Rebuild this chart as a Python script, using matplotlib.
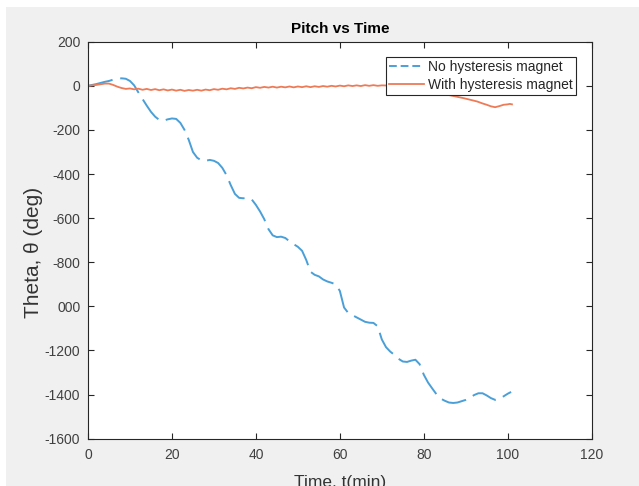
import matplotlib.pyplot as plt
from matplotlib.lines import Line2D
from matplotlib.patches import Rectangle

# pitch angle without the hysteresis magnet (deg)
t_no = [0, 2, 4, 5, 6, 7, 8, 9, 10, 11, 12, 13, 14, 15, 16, 17, 18, 19, 20,
        21, 22, 23, 24, 25, 26, 27, 28, 29, 30, 31, 32, 33, 34, 35, 36, 37, 38,
        39, 40, 41, 42, 43, 44, 45, 46, 47, 48, 49, 50, 51, 52, 53, 54, 55, 56,
        57, 58, 59, 60, 61, 62, 63, 64, 65, 66, 67, 68, 69, 70, 71, 72, 73, 74,
        75, 76, 77, 78, 79, 80, 81, 82, 83, 84, 85, 86, 87, 88, 89, 90, 91, 92,
        93, 94, 95, 96, 97, 98, 99, 100, 100.8]
theta_no = [0, 8, 18, 22, 28, 32, 34, 32, 22, 2, -30, -60, -90, -118, -140,
            -155, -158, -152, -148, -150, -168, -200, -245, -300, -326, -338,
            -340, -336, -340, -350, -372, -405, -450, -490, -508, -510, -508,
            -515, -540, -570, -605, -650, -678, -686, -684, -690, -705, -718,
            -730, -748, -790, -843, -857, -864, -878, -887, -893, -900, -930,
            -1005, -1030, -1040, -1050, -1060, -1070, -1074, -1075, -1090,
            -1150, -1185, -1205, -1220, -1238, -1250, -1252, -1246, -1242,
            -1262, -1310, -1345, -1372, -1398, -1418, -1428, -1436, -1438,
            -1436, -1430, -1424, -1414, -1402, -1394, -1394, -1404, -1416,
            -1424, -1420, -1408, -1396, -1388]

# pitch angle with the hysteresis magnet (deg)
t_with = [0, 2, 4, 5, 6, 7, 8, 9, 10, 11, 12, 13, 14, 15, 16, 17, 18, 19, 20,
          21, 22, 23, 24, 25, 26, 27, 28, 29, 30, 31, 32, 33, 34, 35, 36, 37,
          38, 39, 40, 41, 42, 43, 44, 45, 46, 47, 48, 49, 50, 51, 52, 53, 54,
          55, 56, 57, 58, 59, 60, 61, 62, 63, 64, 65, 66, 67, 68, 69, 70, 72,
          74, 76, 78, 80, 82, 84, 86, 88, 89.5, 91, 92.7, 94, 95, 96, 97, 98,
          99, 100, 100.5, 101]
theta_with = [0, 4, 10, 10, 4, -4, -10, -14, -12, -16, -13, -18, -14, -19,
              -15, -20, -16, -21, -17, -22, -18, -23, -19, -22, -18, -22, -17,
              -20, -15, -18, -13, -16, -11, -14, -9, -12, -8, -11, -6, -9, -5,
              -8, -4, -8, -4, -7, -3, -7, -3, -6, -2, -6, -2, -5, -1, -4, 0,
              -3, 1, -2, 2, -1, 2, -1, 3, 0, 3, 0, 2, 1, 0, -2, -6, -12, -22,
              -32, -42, -50, -56, -63, -71, -80, -86, -93, -97, -92, -86, -84,
              -82, -84]

yticks = [200, 0, -200, -400, -600, -800, -1000, -1200, -1400, -1600]
ytick_labels = ['200', '0', '-200', '-400', '-600', '-800', '000', '-1200',
                '-1400', '-1600']
xticks = [0, 20, 40, 60, 80, 100, 120]

blue = '#4a9fd8'
orange = '#ee7b57'
dark = '#262626'

plt.rcParams['font.family'] = 'Liberation Sans'

fig = plt.figure(figsize=(6.39, 4.86), dpi=100, facecolor='white')
# grey window background, leaving a thin white strip on the top and left
fig.patches.append(Rectangle((6 / 639, 0), 1, (486 - 7) / 486,
                             transform=fig.transFigure, facecolor='#f0f0f0',
                             edgecolor='none', zorder=-10))

ax = fig.add_axes([88 / 639, (486 - 438.7) / 486, 503.7 / 639, 397 / 486])
ax.set_facecolor('white')

ax.plot(t_no, theta_no, color=blue, lw=1.4, linestyle=(0, (13, 4)))
ax.plot(t_with, theta_with, color=orange, lw=1.3)

ax.set_xlim(0, 120)
ax.set_ylim(-1600, 200)
ax.set_xticks(xticks)
ax.set_yticks(yticks)
ax.set_yticklabels(ytick_labels)

ax.tick_params(direction='in', length=4, width=0.8, colors=dark,
               labelcolor='#404040', labelsize=10, top=True, right=True)
ax.tick_params(axis='x', pad=7)
ax.tick_params(axis='y', pad=5.5)
for s in ax.spines.values():
    s.set_color(dark)
    s.set_linewidth(0.8)

ax.set_title('Pitch vs Time', fontsize=11, fontweight='bold', color='black',
             pad=6)
ax.set_xlabel('Time, t(min)', fontsize=12.5, color='#333333')
ax.xaxis.set_label_coords(0.5, -0.092)
ax.set_ylabel('Theta, \u03b8 (deg)', fontsize=15, color='#333333')
ax.yaxis.set_label_coords(-0.09, 0.47)

handles = [Line2D([], [], color=blue, lw=1.4, linestyle=(0, (4, 2))),
           Line2D([], [], color=orange, lw=1.3)]
leg = ax.legend(handles, ['No hysteresis magnet', 'With hysteresis magnet'],
                loc='upper right', bbox_to_anchor=(0.969, 0.962),
                borderaxespad=0, fontsize=10, fancybox=False, framealpha=1,
                handlelength=2.5, handletextpad=0.3, labelspacing=0.25,
                borderpad=0.25)
leg.get_frame().set_edgecolor(dark)
leg.get_frame().set_linewidth(0.8)
for txt in leg.get_texts():
    txt.set_color(dark)

fig.savefig('out.png', dpi=100, facecolor=fig.get_facecolor())
